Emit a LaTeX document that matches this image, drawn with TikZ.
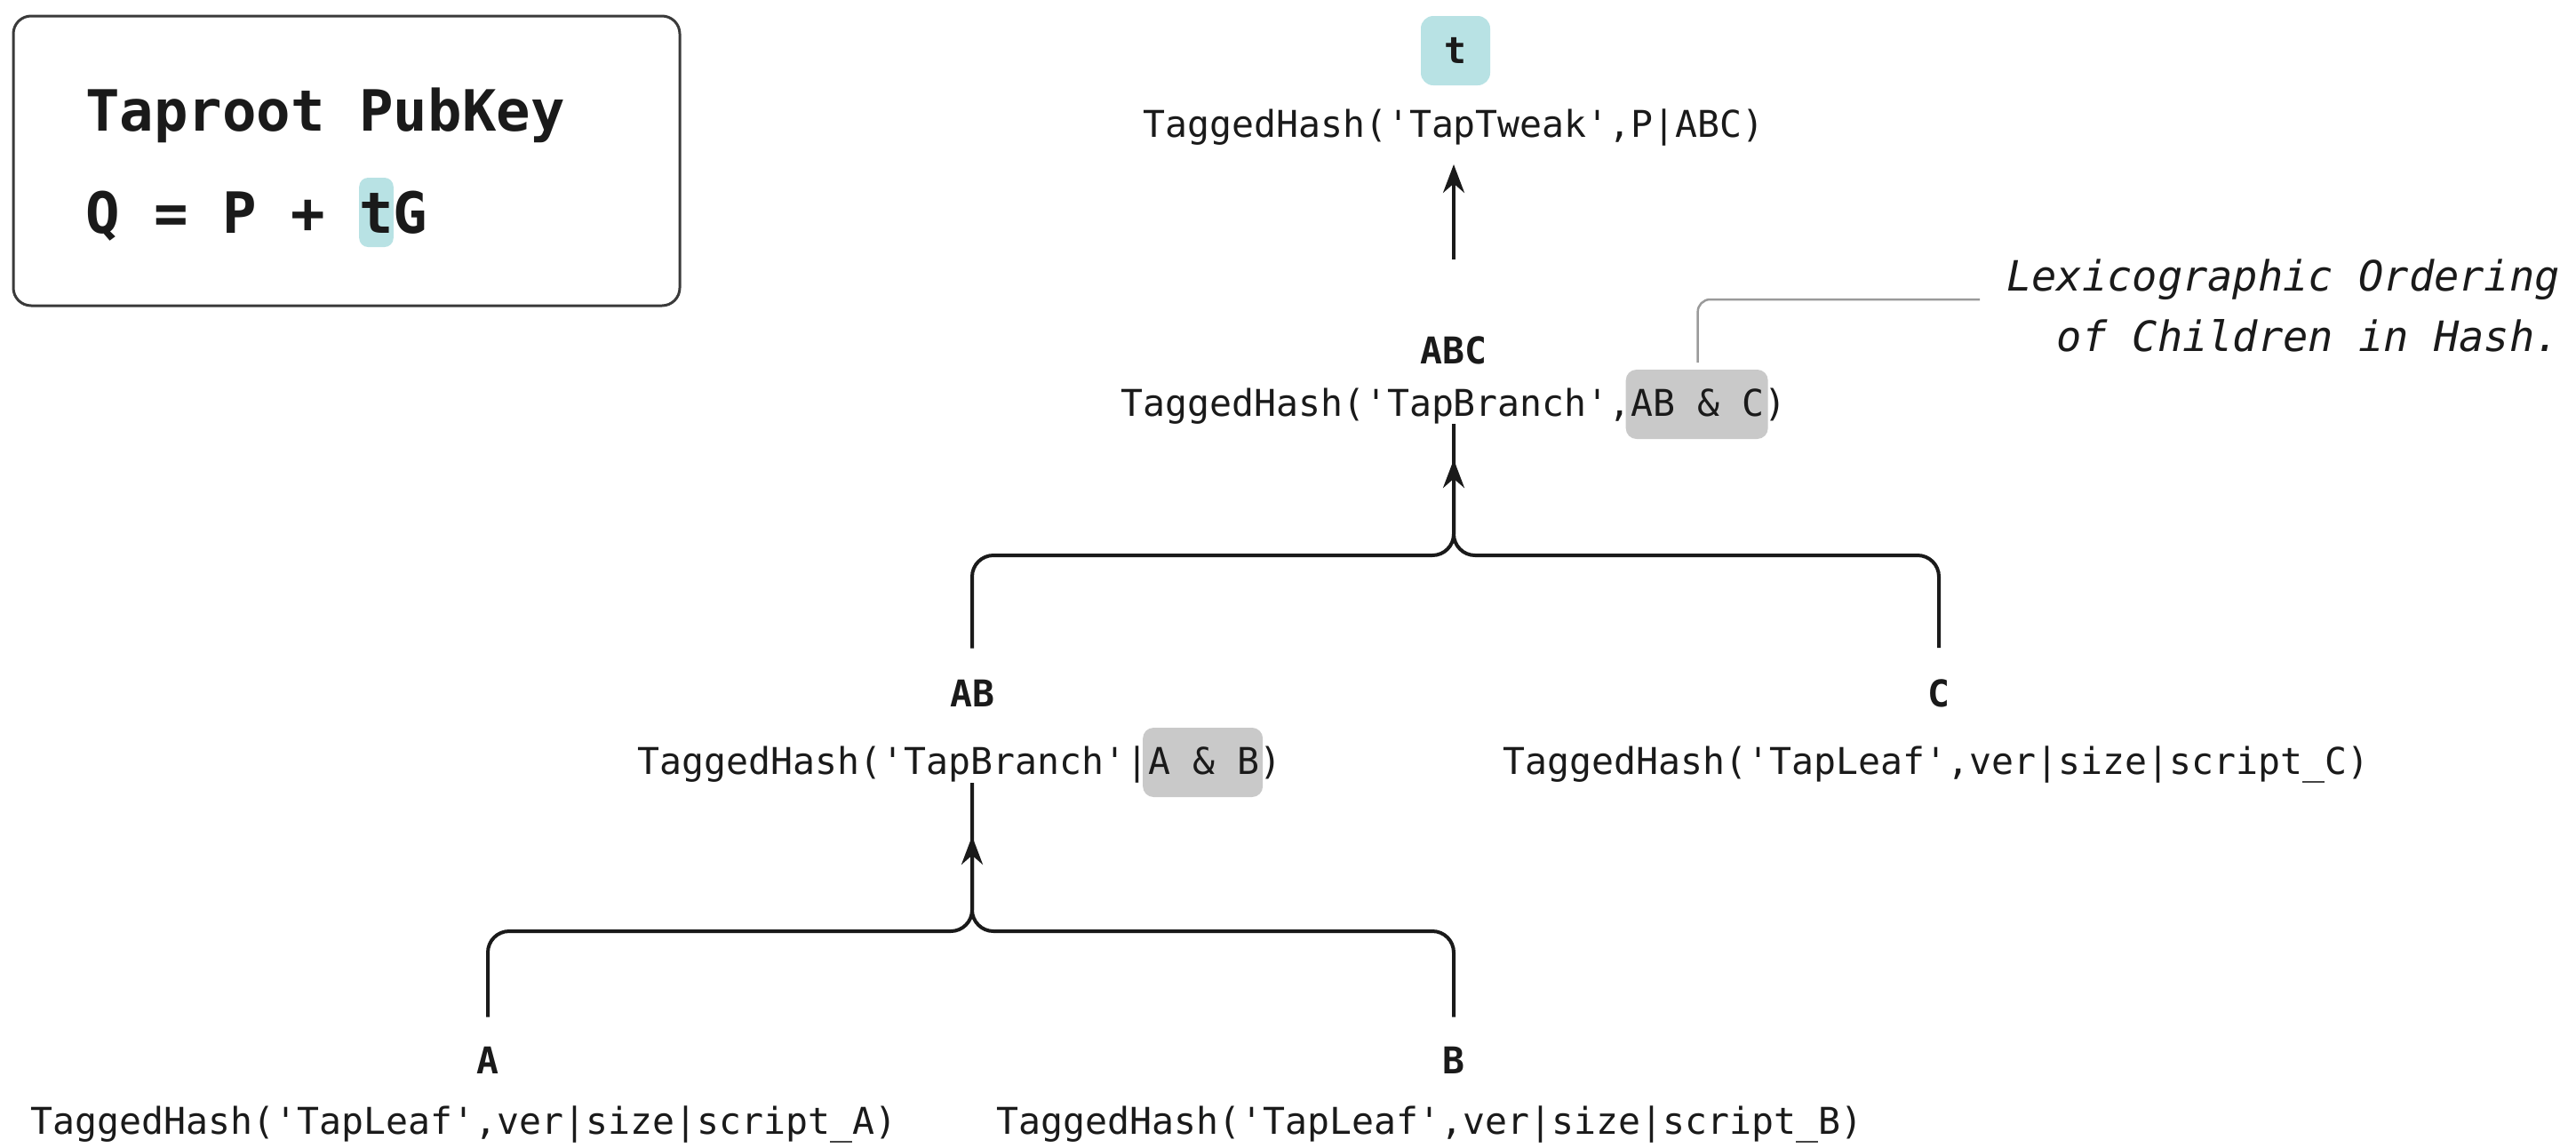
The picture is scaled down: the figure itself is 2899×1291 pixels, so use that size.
\documentclass[tikz,border=0pt]{standalone}
\usepackage{fontspec}
\newfontfamily\mono{DejaVu Sans Mono}
\usetikzlibrary{arrows.meta,calc}
\pgfdeclarelayer{bg}
\pgfsetlayers{bg,main}
\definecolor{ink}{HTML}{1A1A1A}
\definecolor{cyanhl}{HTML}{B8E2E4}
\definecolor{grayhl}{HTML}{C9C9C9}
\definecolor{callout}{HTML}{9A9A9A}
\definecolor{boxline}{HTML}{3A3A3A}
\newcommand\sq{\textquotesingle}
\begin{document}
\begin{tikzpicture}[x=1pt,y=-1pt,
  txt/.style={font=\mono\fontsize{41.5}{50}\selectfont, inner sep=0pt, anchor=base, text=ink},
  lbl/.style={font=\mono\bfseries\fontsize{41.5}{50}\selectfont, inner sep=0pt, anchor=base, text=ink},
  big/.style={font=\mono\bfseries\fontsize{64}{70}\selectfont, inner sep=0pt, anchor=base west, text=ink},
  note/.style={font=\mono\itshape\fontsize{47}{55}\selectfont, inner sep=0pt, anchor=base east, text=ink},
  conn/.style={line width=4pt, draw=ink, rounded corners=24pt},
  tipend/.style={-{Stealth[length=32pt,width=24pt]}},
  hl/.style={fill=grayhl, rounded corners=12pt},
  chl/.style={fill=cyanhl, rounded corners=10pt},
  frame/.style={draw=boxline, line width=3pt, rounded corners=20pt}]
\useasboundingbox (0,0) rectangle (2899,1291);

% top-left box
\draw[frame] (15,18) rectangle (765,344);
\node[big] (title) at (96,147) {Taproot PubKey};
\node[big] (eq) at (96,262) {Q = P + tG};
\begin{pgfonlayer}{bg}
\fill[chl] ($(eq.base west)+(8*38.53,-62)$) rectangle ($(eq.base west)+(9*38.53,16)$);
\end{pgfonlayer}

% t and tweak
\node[lbl, anchor=center, fill=cyanhl, rounded corners=14pt, minimum size=78pt] (t) at (1638,57) {t};
\node[txt] (hT) at (1636,154) {TaggedHash(\sq TapTweak\sq,P|ABC)};
\coordinate (aT) at (1636,292);
\draw[conn, tipend, shorten >=21pt] (aT) -- (hT.south);

% ABC
\node[lbl] (ABC) at (1636,409) {ABC};
\node[txt] (hABC) at (1636,468) {TaggedHash(\sq TapBranch\sq,AB \& C)};
\begin{pgfonlayer}{bg}
\fill[hl] ($(hABC.base west)+(23*24.985-6,-52)$) rectangle ($(hABC.base west)+(29*24.985+4,26)$);
\end{pgfonlayer}

% callout
\draw[callout, line width=2.5pt, rounded corners=14pt] ($(hABC.base west)+(26*24.985,-60)$) |- (2228,337) coordinate (cEnd);
\node[note] (n1) at (2881,327) {Lexicographic Ordering};
\node[note] (n2) at (2881,395) {of Children in Hash.};

% AB and C
\node[lbl] (AB) at (1094,795) {AB};
\node[lbl] (C) at (2182,795) {C};
\node[txt] (hAB) at (1080,871) {TaggedHash(\sq TapBranch\sq|A \& B)};
\begin{pgfonlayer}{bg}
\fill[hl] ($(hAB.base west)+(23*24.985-6,-52)$) rectangle ($(hAB.base west)+(28*24.985+4,26)$);
\end{pgfonlayer}
\node[txt] (hC) at (2179,871) {TaggedHash(\sq TapLeaf\sq,ver|size|script\_C)};

\coordinate (jABC) at (1636,625);
\draw[conn, shorten <=35pt] (AB.north) |- (jABC) -- (jABC |- hABC.south);
\draw[conn, tipend, shorten <=35pt, shorten >=40pt] (C.north) |- (jABC) -- (jABC |- hABC.south);

% A and B
\node[lbl] (A) at (549,1208) {A};
\node[lbl] (B) at (1636,1208) {B};
\node[txt] (hA) at (522,1276) {TaggedHash(\sq TapLeaf\sq,ver|size|script\_A)};
\node[txt] (hB) at (1609,1276) {TaggedHash(\sq TapLeaf\sq,ver|size|script\_B)};

\coordinate (jAB) at (1094,1048);
\draw[conn, shorten <=33pt] (A.north) |- (jAB) -- (jAB |- hAB.south);
\draw[conn, tipend, shorten <=33pt, shorten >=60pt] (B.north) |- (jAB) -- (jAB |- hAB.south);
\end{tikzpicture}
\end{document}
